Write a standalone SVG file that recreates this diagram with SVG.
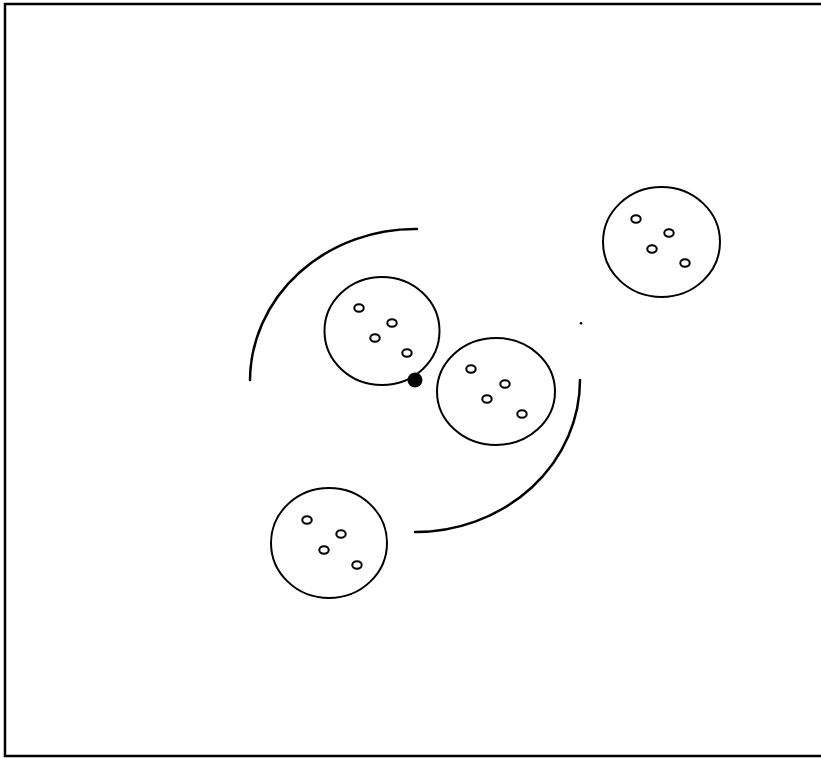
<svg xmlns="http://www.w3.org/2000/svg" width="821" height="759" viewBox="0 0 821 759">
<style>
.frame{fill:none;stroke:#000;stroke-width:2.5}
.cell{fill:none;stroke:#000;stroke-width:2}
.dot{fill:none;stroke:#000;stroke-width:2}
.arc{fill:none;stroke:#000;stroke-width:2.5;stroke-linecap:round}
</style>
<rect width="821" height="759" fill="#fff"/>
<path class="frame" d="M821 4 H5 V756 H821"/>
<g id="cluster-a">
<ellipse class="cell" cx="382" cy="331" rx="57.5" ry="54"/>
<ellipse class="dot" cx="359" cy="308" rx="4.7" ry="3.8"/>
<ellipse class="dot" cx="392" cy="323" rx="4.7" ry="3.8"/>
<ellipse class="dot" cx="375" cy="338" rx="4.7" ry="3.8"/>
<ellipse class="dot" cx="407" cy="353" rx="4.7" ry="3.8"/>
</g>
<g id="cluster-b">
<ellipse class="cell" cx="496" cy="391.5" rx="59" ry="53.5"/>
<ellipse class="dot" cx="471" cy="369" rx="4.7" ry="3.8"/>
<ellipse class="dot" cx="505" cy="384" rx="4.7" ry="3.8"/>
<ellipse class="dot" cx="487" cy="399" rx="4.7" ry="3.8"/>
<ellipse class="dot" cx="522" cy="414" rx="4.7" ry="3.8"/>
</g>
<g id="cluster-c">
<ellipse class="cell" cx="661.5" cy="242" rx="58.5" ry="55"/>
<ellipse class="dot" cx="636" cy="219" rx="4.7" ry="3.8"/>
<ellipse class="dot" cx="669" cy="233" rx="4.7" ry="3.8"/>
<ellipse class="dot" cx="652" cy="249" rx="4.7" ry="3.8"/>
<ellipse class="dot" cx="685" cy="263" rx="4.7" ry="3.8"/>
</g>
<g id="cluster-d">
<ellipse class="cell" cx="329" cy="543" rx="58" ry="55"/>
<ellipse class="dot" cx="307" cy="520" rx="4.7" ry="3.8"/>
<ellipse class="dot" cx="341" cy="534" rx="4.7" ry="3.8"/>
<ellipse class="dot" cx="324" cy="550" rx="4.7" ry="3.8"/>
<ellipse class="dot" cx="357" cy="565" rx="4.7" ry="3.8"/>
</g>
<g id="pivot">
<circle cx="415" cy="380" r="7.5" fill="#000"/>
</g>
<g id="connectors">
<path class="arc" d="M417 229 A165 152 0 0 0 250 380"/>
<path class="arc" d="M580 380 A165 152 0 0 1 415 532"/>
</g>
<circle cx="581" cy="323.3" r="1.3" fill="#000"/>
</svg>
